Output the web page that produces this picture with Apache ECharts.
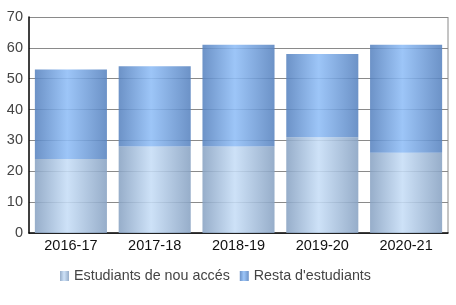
<!DOCTYPE html>
<html><head><meta charset="utf-8">
<script src="https://cdn.jsdelivr.net/npm/echarts@6/dist/echarts.min.js"></script>
<style>html,body{margin:0;padding:0;background:#fff}#c{width:456px;height:305px}</style>
</head><body><div id="c"></div>
<script>
const categories = ['2016-17','2017-18','2018-19','2019-20','2020-21'];
const nouAcces = [24, 28, 28, 31, 26];
const resta = [29, 26, 33, 27, 35];
const seriesNames = ['Estudiants de nou accés', "Resta d'estudiants"];
const yTicks = [0,10,20,30,40,50,60,70];

function grad(edge, mid) {
  return new echarts.graphic.LinearGradient(0,0,1,0,[
    {offset:0,color:edge},{offset:0.45,color:mid},{offset:1,color:edge}]);
}
const chart = echarts.init(document.getElementById('c'));
chart.setOption({
  animation:false,
  grid:{left:29,right:8,top:17,bottom:72},
  legend:{top:264,left:55,icon:'rect',itemWidth:9,itemHeight:10,itemGap:10,
    textStyle:{fontFamily:'Liberation Sans',fontSize:14.3,color:'#444'},
    data:seriesNames},
  xAxis:{type:'category',data:categories,
    axisLine:{lineStyle:{color:'#000',width:1.5}},axisTick:{show:false},
    axisLabel:{fontFamily:'Liberation Sans',fontSize:14.5,color:'#111',margin:5}},
  yAxis:{type:'value',min:yTicks[0],max:yTicks[yTicks.length-1],interval:10,
    axisLine:{show:true,lineStyle:{color:'#000',width:1.5}},axisTick:{show:false},
    axisLabel:{fontFamily:'Liberation Sans',fontSize:14.5,color:'#444',margin:6},
    splitLine:{lineStyle:{color:'#8a8a8a',width:1}}},
  series:[
    {name:seriesNames[0],type:'bar',stack:'a',data:nouAcces,barCategoryGap:'14%',
     itemStyle:{color:grad('#88a2c2','#c6ddf6'),opacity:0.88}},
    {name:seriesNames[1],type:'bar',stack:'a',data:resta,barCategoryGap:'14%',
     itemStyle:{color:grad('#5883bf','#8fbdf6'),opacity:0.88}}
  ],
  graphic:[{type:'line',shape:{x1:448,y1:17,x2:448,y2:233},style:{stroke:'#8a8a8a',lineWidth:1}}]
});
</script></body></html>
